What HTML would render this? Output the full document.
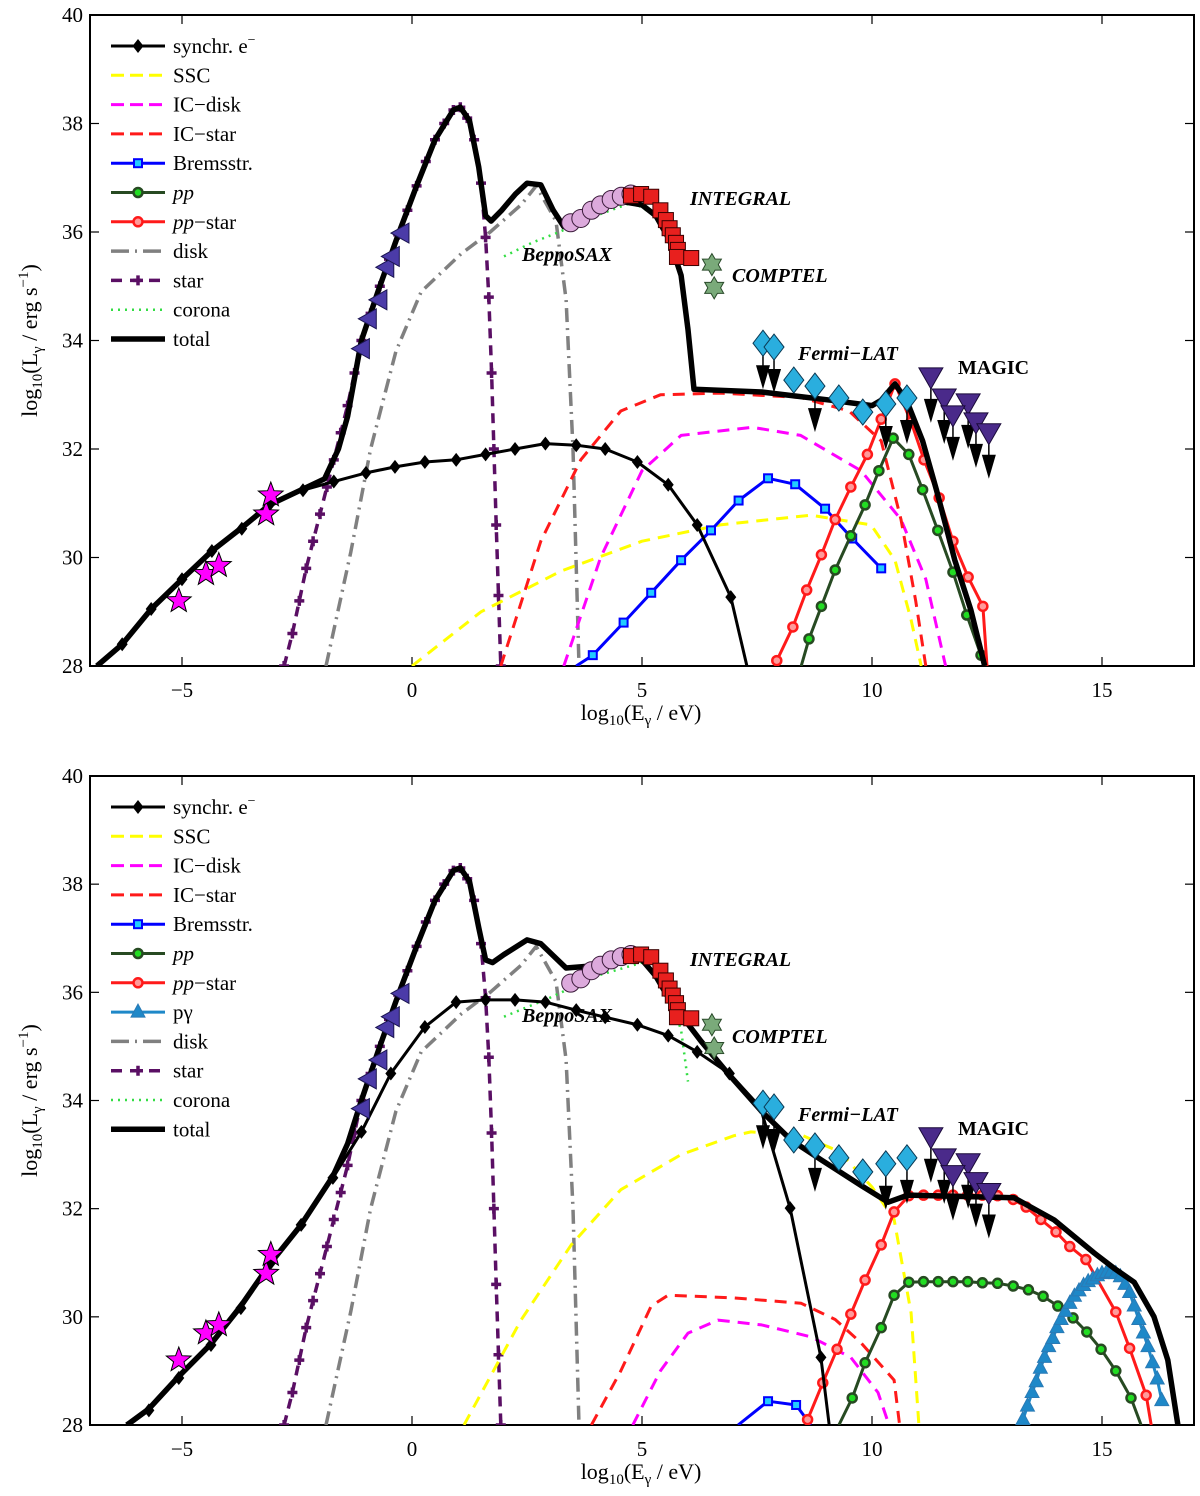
<!DOCTYPE html>
<html><head><meta charset="utf-8"><style>
html,body{margin:0;padding:0;background:#fff;}
svg{display:block;font-family:"Liberation Serif",serif;}
</style></head><body>
<svg id="chart" width="1200" height="1496" viewBox="0 0 1200 1496" xmlns="http://www.w3.org/2000/svg"></svg>
<script>
// ---------- data (log10 E [eV], log10 L [erg/s]) ----------
const xTicks=[-5,0,5,10,15];
const yTicks=[28,30,32,34,36,38,40];
// observations (same in both panels)
const radioData=[[-5.07,29.2],[-4.48,29.7],[-4.2,29.85],[-3.17,30.8],[-3.07,31.15]];
const irData=[[-1.1,33.85],[-0.95,34.4],[-0.72,34.75],[-0.57,35.35],[-0.45,35.55],[-0.24,35.98]];
const beppoData=[[3.45,36.17],[3.67,36.25],[3.9,36.4],[4.1,36.5],[4.33,36.6],[4.55,36.66],[4.76,36.7]];
const integralData=[[4.76,36.67],[4.98,36.7],[5.2,36.65],[5.4,36.4],[5.52,36.22],[5.6,36.07],[5.67,35.94],[5.74,35.8],[5.78,35.67],[5.76,35.54],[6.07,35.52]];
const comptelData=[[6.52,35.4],[6.57,34.97]];
const fermiData=[[7.63,33.95],[7.87,33.88],[8.3,33.27],[8.76,33.16],[9.28,32.94],[9.8,32.68],[10.3,32.83],[10.76,32.94]];
const fermiUL=[1,1,0,1,0,0,1,1];
const magicData=[[11.28,33.33],[11.57,32.94],[12.09,32.85],[11.76,32.63],[12.26,32.5],[12.54,32.3]];
// top panel models
const synchTop=[[-6.83,28],[-6.3,28.4],[-5.67,29.05],[-5.0,29.6],[-4.35,30.12],[-3.7,30.53],[-3.1,30.97],[-2.37,31.24],[-1.7,31.4],[-1.0,31.56],[-0.37,31.67],[0.28,31.76],[0.96,31.8],[1.6,31.9],[2.24,32.0],[2.9,32.1],[3.57,32.07],[4.2,32.0],[4.9,31.76],[5.57,31.34],[6.2,30.6],[6.93,29.27],[7.28,28]];
const sscTop=[[0,28],[1.5,29.0],[3.24,29.75],[5.0,30.3],[6.7,30.6],[8.67,30.78],[9.98,30.6],[10.5,29.95],[10.85,28.85],[11.07,28]];
const icDiskTop=[[3.3,28],[4.1,30.0],[5.0,31.6],[5.85,32.25],[7.4,32.4],[8.45,32.25],[9.76,31.6],[10.63,30.7],[11.17,29.6],[11.6,28]];
const icStarTop=[[1.93,28],[2.8,30.3],[3.67,31.8],[4.54,32.7],[5.4,33.0],[6.7,33.03],[8.45,32.95],[9.5,32.7],[10.2,32.15],[10.63,30.7],[10.95,29.2],[11.17,28]];
const bremsTop=[[3.57,28],[3.93,28.2],[4.6,28.8],[5.2,29.35],[5.85,29.95],[6.5,30.5],[7.1,31.05],[7.74,31.46],[8.33,31.35],[8.98,30.9],[9.57,30.35],[10.2,29.8]];
const ppTop=[[8.46,28],[8.63,28.5],[8.9,29.1],[9.2,29.77],[9.54,30.4],[9.85,30.97],[10.15,31.6],[10.46,32.2],[10.8,31.9],[11.1,31.25],[11.43,30.5],[11.76,29.73],[12.06,28.94],[12.37,28.2],[12.45,28]];
const ppStarTop=[[7.9,28],[7.93,28.1],[8.28,28.72],[8.58,29.4],[8.9,30.05],[9.2,30.7],[9.54,31.3],[9.9,31.9],[10.2,32.55],[10.5,33.2],[10.85,32.5],[11.13,31.8],[11.46,31.1],[11.76,30.3],[12.09,29.64],[12.41,29.1],[12.5,28]];
const diskTop=[[-1.87,28],[-1.33,30.1],[-0.9,32.0],[-0.35,33.8],[0.2,34.9],[1.07,35.6],[1.7,36.0],[2.37,36.5],[2.7,36.85],[3.13,36.2],[3.35,34.75],[3.5,32],[3.63,28]];
const starTop=[[-2.78,28],[-2.6,28.6],[-2.45,29.2],[-2.3,29.8],[-2.15,30.3],[-2.0,30.8],[-1.85,31.3],[-1.7,31.8],[-1.55,32.3],[-1.4,32.8],[-1.25,33.4],[-1.1,34.0],[-0.9,34.5],[-0.7,35.0],[-0.5,35.5],[-0.3,35.95],[-0.1,36.4],[0.1,36.85],[0.3,37.3],[0.5,37.7],[0.7,38.0],[0.9,38.25],[1.05,38.3],[1.2,38.1],[1.35,37.7],[1.5,36.9],[1.6,35.9],[1.67,34.8],[1.73,33.4],[1.78,32.0],[1.83,30.6],[1.88,29.3],[1.93,28]];
const coronaTop=[[2.0,35.55],[2.6,35.8],[3.2,36.0],[4.0,36.3],[4.8,36.55],[5.3,36.3]];
const totalTop=[[-6.85,28],[-6.3,28.4],[-5.67,29.05],[-5,29.6],[-4.35,30.12],[-3.7,30.55],[-3.1,30.97],[-2.4,31.25],[-1.9,31.45],[-1.6,32.0],[-1.4,32.6],[-1.1,34.0],[-0.7,35.0],[-0.3,35.95],[0.1,36.85],[0.5,37.7],[0.9,38.25],[1.05,38.3],[1.25,38.05],[1.45,37.2],[1.6,36.3],[1.72,36.2],[1.95,36.4],[2.25,36.7],[2.5,36.9],[2.8,36.87],[3.07,36.4],[3.3,36.1],[3.7,36.35],[4.1,36.5],[4.65,36.55],[5.0,36.5],[5.3,36.3],[5.6,35.85],[5.85,35.2],[6.0,34.2],[6.13,33.1],[7.6,33.05],[9.1,32.9],[10.0,32.8],[10.2,32.9],[10.5,33.2],[10.75,32.9],[11.1,32.15],[11.4,31.25],[11.8,29.95],[12.15,29.03],[12.45,28]];
// bottom panel models
const synchBot=[[-6.15,28],[-5.72,28.27],[-5.07,28.87],[-4.37,29.48],[-3.72,30.16],[-3.07,31.0],[-2.41,31.7],[-1.72,32.57],[-1.1,33.42],[-0.46,34.5],[0.28,35.36],[0.96,35.82],[1.6,35.86],[2.24,35.86],[2.9,35.82],[3.57,35.67],[4.2,35.54],[4.9,35.4],[5.57,35.2],[6.2,34.9],[6.9,34.5],[7.57,33.88],[8.22,32.01],[8.89,29.25],[9.07,28]];
const sscBot=[[1.13,28],[2.37,29.94],[3.46,31.33],[4.54,32.35],[5.85,33.0],[7.0,33.35],[7.37,33.42],[8.5,33.35],[9.3,33.05],[10.0,32.4],[10.48,31.8],[10.85,30.07],[11.02,28]];
const icDiskBot=[[4.8,28],[5.4,29.0],[6.0,29.7],[6.65,29.94],[7.6,29.85],[8.67,29.63],[9.54,29.25],[10.13,28.6],[10.37,28]];
const icStarBot=[[3.9,28],[4.54,29.0],[5.2,30.2],[5.57,30.4],[7.0,30.35],[8.46,30.25],[9.2,29.95],[9.76,29.52],[10.48,28.83],[10.6,28]];
const bremsBot=[[7.09,28],[7.74,28.44],[8.35,28.37],[8.67,28]];
const ppBot=[[9.28,28],[9.57,28.5],[9.85,29.15],[10.2,29.8],[10.48,30.4],[10.8,30.64],[11.12,30.65],[11.44,30.65],[11.76,30.65],[12.08,30.65],[12.4,30.63],[12.73,30.62],[13.07,30.57],[13.4,30.5],[13.72,30.38],[14.04,30.2],[14.37,29.98],[14.67,29.72],[14.98,29.4],[15.3,29.0],[15.63,28.5],[15.85,28]];
const ppStarBot=[[8.6,28.1],[8.93,28.78],[9.24,29.4],[9.54,30.05],[9.85,30.68],[10.2,31.33],[10.48,31.94],[10.8,32.24],[11.12,32.25],[11.44,32.25],[11.76,32.25],[12.08,32.25],[12.4,32.25],[12.73,32.24],[13.07,32.17],[13.35,32.03],[13.67,31.8],[14.0,31.57],[14.3,31.3],[14.65,31.06],[15.3,30.09],[15.6,29.42],[15.96,28.55],[16.07,28]];
const pGammaBot=[[13.28,28.1],[13.38,28.35],[13.48,28.6],[13.57,28.8],[13.66,29.05],[13.75,29.25],[13.84,29.45],[13.93,29.6],[14.02,29.8],[14.11,29.95],[14.2,30.1],[14.3,30.25],[14.4,30.38],[14.5,30.48],[14.6,30.58],[14.7,30.65],[14.8,30.7],[14.9,30.76],[15.0,30.8],[15.1,30.82],[15.2,30.83],[15.3,30.8],[15.4,30.74],[15.5,30.6],[15.6,30.45],[15.7,30.2],[15.8,29.95],[15.9,29.7],[16.0,29.45],[16.1,29.15],[16.2,28.85],[16.3,28.45]];
const diskBot=diskTop;
const starBot=starTop;
const coronaBot=[[2.0,35.55],[3.0,35.9],[4.0,36.3],[5.0,36.55],[5.5,36.2],[5.85,35.3],[6.0,34.35]];
const totalBot=[[-6.2,28],[-5.72,28.3],[-5.07,28.9],[-4.37,29.5],[-3.72,30.2],[-3.07,31.0],[-2.41,31.7],[-1.72,32.6],[-1.4,33.2],[-1.1,34.0],[-0.7,35.0],[-0.3,35.95],[0.1,36.85],[0.5,37.7],[0.9,38.25],[1.05,38.3],[1.25,38.05],[1.45,37.2],[1.6,36.6],[1.75,36.55],[2.0,36.7],[2.5,36.97],[2.8,36.9],[3.35,36.45],[4.1,36.5],[4.65,36.6],[5.0,36.6],[5.3,36.3],[5.6,35.86],[6.28,35.1],[6.9,34.47],[7.6,33.8],[8.24,33.27],[8.9,32.9],[9.76,32.43],[10.35,32.12],[10.78,32.25],[13.09,32.2],[13.96,31.79],[14.83,31.18],[15.26,30.9],[15.7,30.64],[16.13,30.0],[16.43,29.2],[16.65,28]];
const legendTop=["synchr","SSC","IC-disk","IC-star","Bremsstr","pp","pp-star","disk","star","corona","total"];
const legendBot=["synchr","SSC","IC-disk","IC-star","Bremsstr","pp","pp-star","pgamma","disk","star","corona","total"];

// ---------- drawing ----------
const NS="http://www.w3.org/2000/svg";
const svg=document.getElementById('chart');
const X0=90,X1=1194,XMIN=-7,XMAX=17,YMIN=28,YMAX=40;
function sx(x){return X0+(x-XMIN)/(XMAX-XMIN)*(X1-X0);}
function mk(tag,attrs,parent){const e=document.createElementNS(NS,tag);for(const k in attrs)e.setAttribute(k,attrs[k]);(parent||svg).appendChild(e);return e;}
const defs=mk('defs',{});

const STYLE={
 synchr:{c:'#000',w:3,dash:'',m:'diamond',label:'synchr. e'},
 SSC:{c:'#ffff00',w:3,dash:'12 8',label:'SSC'},
 'IC-disk':{c:'#ff00ff',w:3,dash:'12 8',label:'IC\u2212disk'},
 'IC-star':{c:'#ff1a1a',w:3,dash:'12 8',label:'IC\u2212star'},
 Bremsstr:{c:'#0000ff',w:3,dash:'',m:'square',label:'Bremsstr.'},
 pp:{c:'#274a22',w:3,dash:'',m:'circle',fill:'#22dd22',label:'pp'},
 'pp-star':{c:'#ff1a1a',w:3,dash:'',m:'circle',fill:'#ff9a9a',label:'pp\u2212star'},
 pgamma:{c:'#1e88c8',w:3,dash:'',m:'tri',label:'p\u03b3'},
 disk:{c:'#808080',w:3.5,dash:'14 6 2 6',label:'disk'},
 star:{c:'#5a0f64',w:3.5,dash:'10 7',m:'plus',label:'star'},
 corona:{c:'#33dd44',w:2.5,dash:'2 5',label:'corona'},
 total:{c:'#000',w:5.5,dash:'',label:'total'}
};

function marker(kind,x,y,g,st){
 let e;
 if(kind==='diamond'){e=mk('path',{d:`M${x},${y-7}L${x+5.5},${y}L${x},${y+7}L${x-5.5},${y}Z`,fill:'#000'},g);}
 else if(kind==='square'){e=mk('rect',{x:x-4,y:y-4,width:8,height:8,fill:'#22ccff',stroke:'#0000ff','stroke-width':2},g);}
 else if(kind==='circle'){e=mk('circle',{cx:x,cy:y,r:4.5,fill:st.fill,stroke:st.c,'stroke-width':2.5},g);}
 else if(kind==='tri'){e=mk('path',{d:`M${x},${y-8}L${x+7},${y+5}L${x-7},${y+5}Z`,fill:'#1e88c8',stroke:'#2a7ab5','stroke-width':1},g);}
 else if(kind==='plus'){e=mk('path',{d:`M${x-5},${y}H${x+5}M${x},${y-5}V${y+5}`,stroke:st.c,'stroke-width':3.5,fill:'none'},g);}
 
 
}

function star5(x,y,R,g,fill){
 let d='';for(let i=0;i<10;i++){const r=i%2?R*0.42:R;const a=-Math.PI/2+i*Math.PI/5;d+=(i?'L':'M')+(x+r*Math.cos(a)).toFixed(1)+','+(y+r*Math.sin(a)).toFixed(1);}
 return mk('path',{d:d+'Z',fill:fill,stroke:'#000','stroke-width':1},g);
}
function hexa(x,y,R,g){
 let d='';for(let i=0;i<12;i++){const r=i%2?R*0.58:R;const a=-Math.PI/2+i*Math.PI/6;d+=(i?'L':'M')+(x+r*Math.cos(a)).toFixed(1)+','+(y+r*Math.sin(a)).toFixed(1);}
 return mk('path',{d:d+'Z',fill:'#7aaa7a',stroke:'#2a4a2a','stroke-width':1},g);
}
function arrow(x,y,g){
 const a=mk('g',{},g);
 
 
 mk('line',{x1:x,y1:y,x2:x,y2:y+28,stroke:'#000','stroke-width':1.5},a);
 mk('path',{d:`M${x-7},${y+22}L${x+7},${y+22}L${x},${y+46}Z`,fill:'#000'},a);
}

function drawPanel(pi,top,bot,series,legend){
 const sy=v=>bot-(v-YMIN)/(YMAX-YMIN)*(bot-top);
 const P=mk('g',{});
 
 
 const cid='clip'+pi;
 const cp=mk('clipPath',{id:cid},defs);
 mk('rect',{x:X0,y:top,width:X1-X0,height:bot-top},cp);
 // axes box
 const box=mk('rect',{x:X0,y:top,width:X1-X0,height:bot-top,fill:'none',stroke:'#000','stroke-width':2},P);
 
 
 // ticks
 const tg=mk('g',{stroke:'#000','stroke-width':1.2},P);
 
 
 xTicks.forEach(t=>{const x=sx(t);mk('line',{x1:x,y1:bot,x2:x,y2:bot-9},tg);mk('line',{x1:x,y1:top,x2:x,y2:top+9},tg);
   const lb=mk('text',{x:x,y:bot+31,'text-anchor':'middle','font-size':21,fill:'#000',stroke:'none'},P);lb.textContent=(t<0?'\u2212'+(-t):t);
   
   });
 yTicks.forEach(t=>{const y=sy(t);mk('line',{x1:X0,y1:y,x2:X0+9,y2:y},tg);mk('line',{x1:X1,y1:y,x2:X1-9,y2:y},tg);
   const lb=mk('text',{x:83,y:y+7,'text-anchor':'end','font-size':21,fill:'#000'},P);lb.textContent=t;
   
   });
 // axis titles
 const xt=mk('text',{x:641,y:bot+54,'text-anchor':'middle','font-size':22},P);
 
 
 xt.innerHTML='log<tspan font-size="15" dy="5">10</tspan><tspan dy="-5">(E</tspan><tspan font-size="15" dy="5">\u03b3</tspan><tspan dy="-5"> / eV)</tspan>';
 const cy=(top+bot)/2;
 const yt=mk('text',{x:0,y:0,'text-anchor':'middle','font-size':22,transform:`translate(37,${cy}) rotate(-90)`},P);
 
 
 yt.innerHTML='log<tspan font-size="15" dy="5">10</tspan><tspan dy="-5">(L</tspan><tspan font-size="15" dy="5">\u03b3</tspan><tspan dy="-5"> / erg s</tspan><tspan font-size="15" dy="-9">\u22121</tspan><tspan dy="9">)</tspan>';
 // series
 const SG=mk('g',{'clip-path':`url(#${cid})`},P);
 
 
 series.forEach(([key,data])=>{
   const st=STYLE[key];
   const g=mk('g',{},SG);
   
   
   const d=data.map((p,i)=>(i?'L':'M')+sx(p[0]).toFixed(1)+','+sy(p[1]).toFixed(1)).join('');
   const ln=mk('path',{d:d,fill:'none',stroke:st.c,'stroke-width':st.w,'stroke-linejoin':'round'},g);
   if(st.dash)ln.setAttribute('stroke-dasharray',st.dash);
   
   
   if(st.m){data.forEach(p=>{if(st.m!=='plus'&&p[1]<=28.02)return;marker(st.m,sx(p[0]),sy(p[1]),g,st);});}
 });
 // observations
 const OG=mk('g',{'clip-path':`url(#${cid})`},P);
 
 
 radioData.forEach(p=>{const e=star5(sx(p[0]),sy(p[1]),13,OG,'#ff00ff');
   
   });
 irData.forEach(p=>{const x=sx(p[0]),y=sy(p[1]);const e=mk('path',{d:`M${x-10},${y}L${x+8},${y-10}L${x+8},${y+10}Z`,fill:'#4b3ba8',stroke:'#1a1450','stroke-width':1},OG);
   
   });
 beppoData.forEach(p=>{const e=mk('circle',{cx:sx(p[0]),cy:sy(p[1]),r:9,fill:'#dcaadc',stroke:'#3a1a3a','stroke-width':1},OG);
   
   });
 integralData.forEach(p=>{const e=mk('rect',{x:sx(p[0])-7.5,y:sy(p[1])-7.5,width:15,height:15,fill:'#e8201e',stroke:'#3a0000','stroke-width':1},OG);
   
   });
 comptelData.forEach(p=>{const e=hexa(sx(p[0]),sy(p[1]),11,OG);
   
   });
 fermiData.forEach((p,i)=>{const x=sx(p[0]),y=sy(p[1]);if(fermiUL[i])arrow(x,y,OG);
   const e=mk('path',{d:`M${x},${y-13}L${x+10},${y}L${x},${y+13}L${x-10},${y}Z`,fill:'#2aaede',stroke:'#0a3a55','stroke-width':1},OG);
   
   });
 magicData.forEach(p=>{const x=sx(p[0]),y=sy(p[1]);arrow(x,y,OG);
   const e=mk('path',{d:`M${x-12},${y-9}L${x+12},${y-9}L${x},${y+12}Z`,fill:'#4a2a8a',stroke:'#1a0a3a','stroke-width':1},OG);
   
   });
 // annotations
 const ann=[['INTEGRAL',690,8+197,'bold italic'],['BeppoSAX',522,261,'bold italic'],['COMPTEL',732,282,'bold italic'],['Fermi\u2212LAT',798,360,'bold italic'],['MAGIC',958,374,'bold']];
 const off=top-15;
 ann.forEach(a=>{const t=mk('text',{x:a[1],y:a[2]+off,'font-size':a[0]==='MAGIC'?20:20,'font-weight':'bold','font-style':a[3].includes('italic')?'italic':'normal'},P);
   t.textContent=a[0];
   
   });
 // legend
 const LG=mk('g',{},P);
 
 
 legend.forEach((key,i)=>{
   const st=STYLE[key];const y=top+31+i*29.3;
   const g=mk('g',{},LG);
   
   
   const l=mk('line',{x1:111,y1:y,x2:165,y2:y,stroke:st.c,'stroke-width':st.w},g);
   if(st.dash)l.setAttribute('stroke-dasharray',key==='disk'?'18 6 2 6':(key==='corona'?'2 5':(key==='star'?'11 8':'13 6')));
   if(st.m)marker(st.m,138,y,g,st);
   const t=mk('text',{x:173,y:y+7,'font-size':21},g);
   if(key==='synchr')t.innerHTML='synchr. e<tspan font-size="14" dy="-9">\u2212</tspan>';
   else if(key==='pp')t.innerHTML='<tspan font-style="italic">pp</tspan>';
   else if(key==='pp-star')t.innerHTML='<tspan font-style="italic">pp</tspan>\u2212star';
   else t.textContent=st.label;
 });
}

drawPanel(0,15,666,[['disk',diskTop],['star',starTop],['corona',coronaTop],['SSC',sscTop],['IC-disk',icDiskTop],['IC-star',icStarTop],['Bremsstr',bremsTop],['pp',ppTop],['pp-star',ppStarTop],['synchr',synchTop],['total',totalTop]],legendTop);
drawPanel(1,776,1425,[['disk',diskBot],['star',starBot],['corona',coronaBot],['SSC',sscBot],['IC-disk',icDiskBot],['IC-star',icStarBot],['Bremsstr',bremsBot],['pp',ppBot],['pp-star',ppStarBot],['pgamma',pGammaBot],['synchr',synchBot],['total',totalBot]],legendBot);
</script>
</body></html>
